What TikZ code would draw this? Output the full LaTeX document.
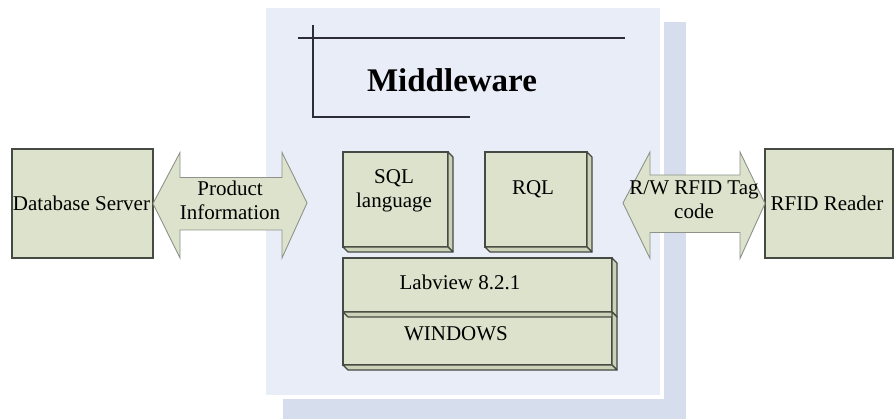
\documentclass[tikz,border=0pt]{standalone}
\usepackage{fontspec}
\setmainfont{Liberation Serif}
\begin{document}
\begin{tikzpicture}[x=1pt,y=-1pt,
  every node/.style={font=\fontsize{21}{24}\selectfont, align=center, inner sep=0pt, outer sep=0pt},
  face/.style={draw=boxline, fill=boxfill, line width=1.1pt},
  sideface/.style={draw=boxline, fill=boxside, line width=1.1pt, line join=round},
  flow/.style={draw=arrline, fill=boxfill, line width=0.9pt, line join=miter},
  rule/.style={draw=ruleline, line width=1.3pt}
]
\definecolor{boxfill}{HTML}{DCE2CB}
\definecolor{boxside}{HTML}{CBD2B7}
\definecolor{boxline}{HTML}{454A42}
\definecolor{arrline}{HTML}{8E938A}
\definecolor{panel}{HTML}{E8EDF8}
\definecolor{panelshade}{HTML}{D6DEEE}
\definecolor{ruleline}{HTML}{2C2D36}

\useasboundingbox (0,0) rectangle (896,419);
\fill[white] (0,0) rectangle (896,419);

% middleware panel with its offset shadow
\fill[panelshade] (283,22) rectangle (686,419);
\fill[white] (262,4) rectangle (664,399);
\fill[panel] (266,8) rectangle (660,395);

% title frame
\draw[rule] (298,38) -- (625,38);
\draw[rule] (313,25) -- (313,117) -- (470,117);
\node[font=\fontsize{33}{36}\selectfont\bfseries] (title) at (452,80) {Middleware};

% outer boxes
\node[face, minimum width=141, minimum height=109, anchor=north west] (db) at (12,149) {};
\node (dbt) at ([xshift=-1]db.center) {Database Server};
\node[face, minimum width=128, minimum height=109, anchor=north west] (rfid) at (765,149) {};
\node (rfidt) at ([xshift=-2]rfid.center) {RFID Reader};

% layered blocks inside the middleware
\node[face, minimum width=105, minimum height=95, anchor=north west] (sql) at (343,152) {};
\node[face, minimum width=102, minimum height=95, anchor=north west] (rql) at (485,152) {};
\node[face, minimum width=269, minimum height=54, anchor=north west] (lab) at (343,258) {};
\node[face, minimum width=269, minimum height=53, anchor=north west] (win) at (343,312) {};
\foreach \n in {sql,rql,lab,win}{
  \filldraw[sideface] (\n.north east) -- ([shift={(5,5)}]\n.north east)
     -- ([shift={(5,5)}]\n.south east) -- (\n.south east) -- cycle;
  \filldraw[sideface] (\n.south west) -- ([shift={(5,5)}]\n.south west)
     -- ([shift={(5,5)}]\n.south east) -- (\n.south east) -- cycle;
}
\node (sqlt) at (394,191) {SQL\\language};
\node (rqlt) at (533,189) {RQL};
\node (labt) at (460,282) {Labview 8.2.1};
\node (wint) at (456,334) {WINDOWS};

% two-way flows
\coordinate (la) at (db.east);
\coordinate (lb) at (307,203);
\filldraw[flow] (la) -- ++(27,-51) -- ++(0,25) -- ++(102,0) -- ++(0,-25)
  -- (lb) -- ++(-25,55) -- ++(0,-28) -- ++(-102,0) -- ++(0,28) -- cycle;
\node (pit) at (230,200) {Product\\Information};

\coordinate (ra) at (623,203);
\coordinate (rb) at (rfid.west);
\filldraw[flow] (ra) -- ++(27,-51) -- ++(0,23) -- ++(90,0) -- ++(0,-23)
  -- (rb) -- ++(-25,55) -- ++(0,-26) -- ++(-90,0) -- ++(0,26) -- cycle;
\node (rwt) at (694,200) {R/W RFID Tag\\code};
\end{tikzpicture}
\end{document}
